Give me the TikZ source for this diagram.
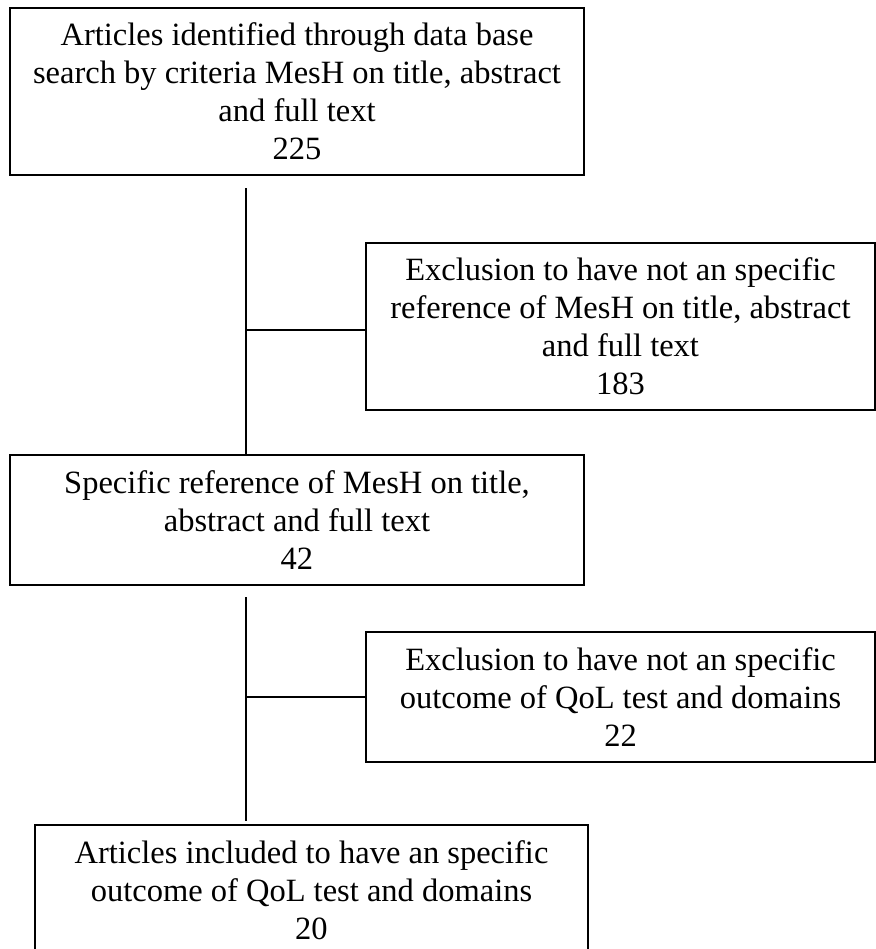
\documentclass[tikz,border=0pt]{standalone}
\usepackage{fontspec}
\setmainfont{Liberation Serif}
\begin{document}
\begin{tikzpicture}[x=0.5pt,y=-0.5pt,
  flowbox/.style={draw,line width=1pt,align=center,inner sep=0pt,font=\fontsize{16.25}{19}\selectfont},
  link/.style={line width=0.65pt}]
  \useasboundingbox (0,0) rectangle (876,949);
  % selection steps and excluded articles
  \node[flowbox,minimum width=287pt,minimum height=83.5pt] (found) at (297,91.5) {Articles identified through data base\\search by criteria MesH on title, abstract\\and full text\\225};
  \node[flowbox,minimum width=254.5pt,minimum height=83.5pt] (excl1) at (620.5,326.5) {Exclusion to have not an specific\\reference of MesH on title, abstract\\and full text\\183};
  \node[flowbox,minimum width=287pt,minimum height=65pt] (spec) at (297,520) {Specific reference of MesH on title,\\abstract and full text\\42};
  \node[flowbox,minimum width=254.5pt,minimum height=65pt] (excl2) at (620.5,697) {Exclusion to have not an specific\\outcome of QoL test and domains\\22};
  \node[flowbox,minimum width=276.5pt,minimum height=65pt] (incl) at (311.5,890) {Articles included to have an specific\\outcome of QoL test and domains\\20};
  % connectors
  \coordinate (a1) at (246,188);
  \coordinate (j1) at (246,330);
  \coordinate (a2) at (246,597);
  \coordinate (j2) at (246,697);
  \draw[link] (a1) -- (a1 |- spec.north);
  \draw[link] (j1) -- (j1 -| excl1.west);
  \draw[link] (a2) -- ([yshift=1.5pt]a2 |- incl.north);
  \draw[link] (j2) -- (j2 -| excl2.west);
\end{tikzpicture}
\end{document}
